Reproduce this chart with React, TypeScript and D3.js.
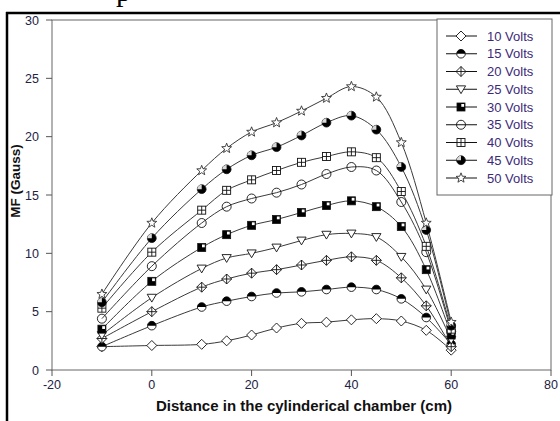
import React from "react";
import * as d3 from "d3";

const distances = [-10, 0, 10, 15, 20, 25, 30, 35, 40, 45, 50, 55, 60];
const seriesNames = ["10 Volts", "15 Volts", "20 Volts", "25 Volts", "30 Volts", "35 Volts", "40 Volts", "45 Volts", "50 Volts"];
const v10 = [2.0, 2.1, 2.2, 2.5, 3.0, 3.6, 4.0, 4.1, 4.3, 4.4, 4.2, 3.4, 1.7];
const v15 = [2.0, 3.8, 5.4, 5.9, 6.3, 6.6, 6.7, 6.9, 7.1, 6.9, 6.1, 4.5, 2.2];
const v20 = [2.7, 5.0, 7.1, 7.8, 8.3, 8.6, 9.0, 9.4, 9.7, 9.4, 7.9, 5.5, 2.0];
const v25 = [3.0, 6.2, 8.7, 9.6, 10.0, 10.5, 11.1, 11.6, 11.7, 11.4, 9.7, 6.9, 2.6];
const v30 = [3.5, 7.6, 10.5, 11.6, 12.4, 12.9, 13.5, 14.1, 14.5, 14.0, 12.3, 8.6, 3.0];
const v35 = [4.4, 8.9, 12.6, 14.0, 14.7, 15.2, 15.9, 16.8, 17.4, 17.1, 14.4, 10.1, 3.3];
const v40 = [5.3, 10.1, 13.7, 15.4, 16.3, 17.1, 17.8, 18.3, 18.7, 18.2, 15.3, 10.6, 3.5];
const v45 = [5.8, 11.3, 15.5, 17.2, 18.4, 19.1, 20.1, 21.2, 21.8, 20.6, 17.4, 12.0, 3.8];
const v50 = [6.5, 12.6, 17.1, 19.0, 20.4, 21.2, 22.2, 23.3, 24.3, 23.4, 19.5, 12.6, 4.1];
const seriesValues = [v10, v15, v20, v25, v30, v35, v40, v45, v50];
const markerTypes = ["diamond", "halfCircle", "crossDiamond", "triangleDown", "blackSquare", "circle", "gridSquare", "blackCircle", "star"];
const xTicks = [-20, 0, 20, 40, 60, 80];
const yTicks = [0, 5, 10, 15, 20, 25, 30];

const W = 560, H = 421;
const left = 52, right = 551, top = 20, bottom = 370;
const x = d3.scaleLinear().domain([-20, 80]).range([left, right]);
const y = d3.scaleLinear().domain([0, 30]).range([bottom, top]);
const lineGen = d3.line<[number, number]>().x(d => x(d[0])).y(d => y(d[1])).curve(d3.curveCatmullRom.alpha(0.5));

function Marker({ type }: { type: string }) {
  const s = "#111";
  switch (type) {
    case "diamond":
      return <path d="M0,-5L5,0L0,5L-5,0Z" fill="#fff" stroke={s} strokeWidth={0.9} />;
    case "halfCircle":
      return (
        <g>
          <circle r={4.3} fill="#fff" stroke={s} strokeWidth={0.9} />
          <path d="M-4.3,0A4.3,4.3 0 0 1 4.3,0Z" fill="#000" />
        </g>
      );
    case "crossDiamond":
      return (
        <g>
          <path d="M0,-5L5,0L0,5L-5,0Z" fill="#fff" stroke={s} strokeWidth={0.9} />
          <path d="M0,-5V5M-5,0H5" stroke={s} strokeWidth={0.9} />
        </g>
      );
    case "triangleDown":
      return <path d="M-4.6,-3.4L4.6,-3.4L0,4.4Z" fill="#fff" stroke={s} strokeWidth={0.9} />;
    case "blackSquare":
      return (
        <g>
          <rect x={-4} y={-4} width={8} height={8} fill="#000" stroke={s} strokeWidth={0.8} />
          <rect x={0.3} y={-3} width={2.8} height={2.8} fill="#fff" />
        </g>
      );
    case "circle":
      return <circle r={4.5} fill="none" stroke={s} strokeWidth={0.9} />;
    case "gridSquare":
      return (
        <g>
          <rect x={-4} y={-4} width={8} height={8} fill="#fff" stroke={s} strokeWidth={0.9} />
          <path d="M0,-4V4M-4,0H4" stroke={s} strokeWidth={0.9} />
        </g>
      );
    case "blackCircle":
      return (
        <g>
          <circle r={4.4} fill="#000" stroke={s} strokeWidth={0.8} />
          <path d="M0,0L0,-4.4A4.4,4.4 0 0 0 -4.4,0Z" fill="#fff" opacity={0.85} />
        </g>
      );
    case "star": {
      const pts: string[] = [];
      for (let i = 0; i < 10; i++) {
        const r = i % 2 === 0 ? 5.2 : 2.2;
        const a = -Math.PI / 2 + (i * Math.PI) / 5;
        pts.push(`${(r * Math.cos(a)).toFixed(2)},${(r * Math.sin(a)).toFixed(2)}`);
      }
      return <polygon points={pts.join(" ")} fill="#fff" stroke="#333" strokeWidth={0.9} />;
    }
    default:
      return null;
  }
}

export default function App() {
  const font = "Arial, 'Liberation Sans', sans-serif";
  const tickColor = "#222244";
  const legendX = 437, legendY = 19, legendW = 115, legendH = 176;
  return (
    <svg width={W} height={H} style={{ position: "absolute", left: 0, top: 0, background: "#fff" }}>
      <rect width={W} height={H} fill="#fff" />
      {/* document frame */}
      <line x1={7} y1={12} x2={7} y2={H} stroke="#000" strokeWidth={2.5} />
      <line x1={6} y1={13} x2={W} y2={13} stroke="#000" strokeWidth={2.5} />
      <text x={116} y={1} fontFamily="'Liberation Serif', 'DejaVu Serif', serif" fontSize={30} fill="#000">p</text>

      {/* plot frame */}
      <rect x={left} y={top} width={right - left} height={bottom - top} fill="none" stroke="#666" strokeWidth={1} />

      {/* ticks */}
      {yTicks.map(t => (
        <g key={"y" + t}>
          <line x1={left - 6} x2={left} y1={y(t)} y2={y(t)} stroke="#555" />
          <text x={left - 13} y={y(t) + 4.5} textAnchor="end" fontFamily={font} fontSize={12.5} fill={tickColor}>{t}</text>
        </g>
      ))}
      {xTicks.map(t => (
        <g key={"x" + t}>
          <line x1={x(t)} x2={x(t)} y1={bottom} y2={bottom + 6} stroke="#555" />
          <text x={x(t)} y={bottom + 19} textAnchor="middle" fontFamily={font} fontSize={12.5} fill={tickColor}>{t}</text>
        </g>
      ))}

      {/* axis titles */}
      <text x={304} y={411} textAnchor="middle" fontFamily={font} fontSize={15} fontWeight="bold" fill="#111">
        Distance in the cylinderical chamber (cm)
      </text>
      <text transform="translate(20,181) rotate(-90)" textAnchor="middle" fontFamily={font} fontSize={13.5} fontWeight="bold" fill="#111">
        MF (Gauss)
      </text>

      {/* series lines */}
      {seriesValues.map((vals, i) => (
        <path key={"l" + i} d={lineGen(distances.map((d, j) => [d, vals[j]] as [number, number])) || ""} fill="none" stroke="#3a3a3a" strokeWidth={1} />
      ))}
      {/* markers */}
      {seriesValues.map((vals, i) => (
        <g key={"m" + i}>
          {distances.map((d, j) => (
            <g key={j} transform={`translate(${x(d)},${y(vals[j])})`}>
              <Marker type={markerTypes[i]} />
            </g>
          ))}
        </g>
      ))}

      {/* legend */}
      <rect x={legendX} y={legendY} width={legendW} height={legendH} fill="#fff" stroke="#666" strokeWidth={1} />
      {seriesNames.map((name, i) => {
        const ry = 36 + i * 17.75;
        return (
          <g key={"lg" + i}>
            <line x1={446} x2={477} y1={ry} y2={ry} stroke="#111" strokeWidth={1} />
            <g transform={`translate(461,${ry})`}>
              <Marker type={markerTypes[i]} />
            </g>
            <text x={487} y={ry + 4.5} fontFamily={font} fontSize={13} fill="#3c2a78">{name}</text>
          </g>
        );
      })}
    </svg>
  );
}
